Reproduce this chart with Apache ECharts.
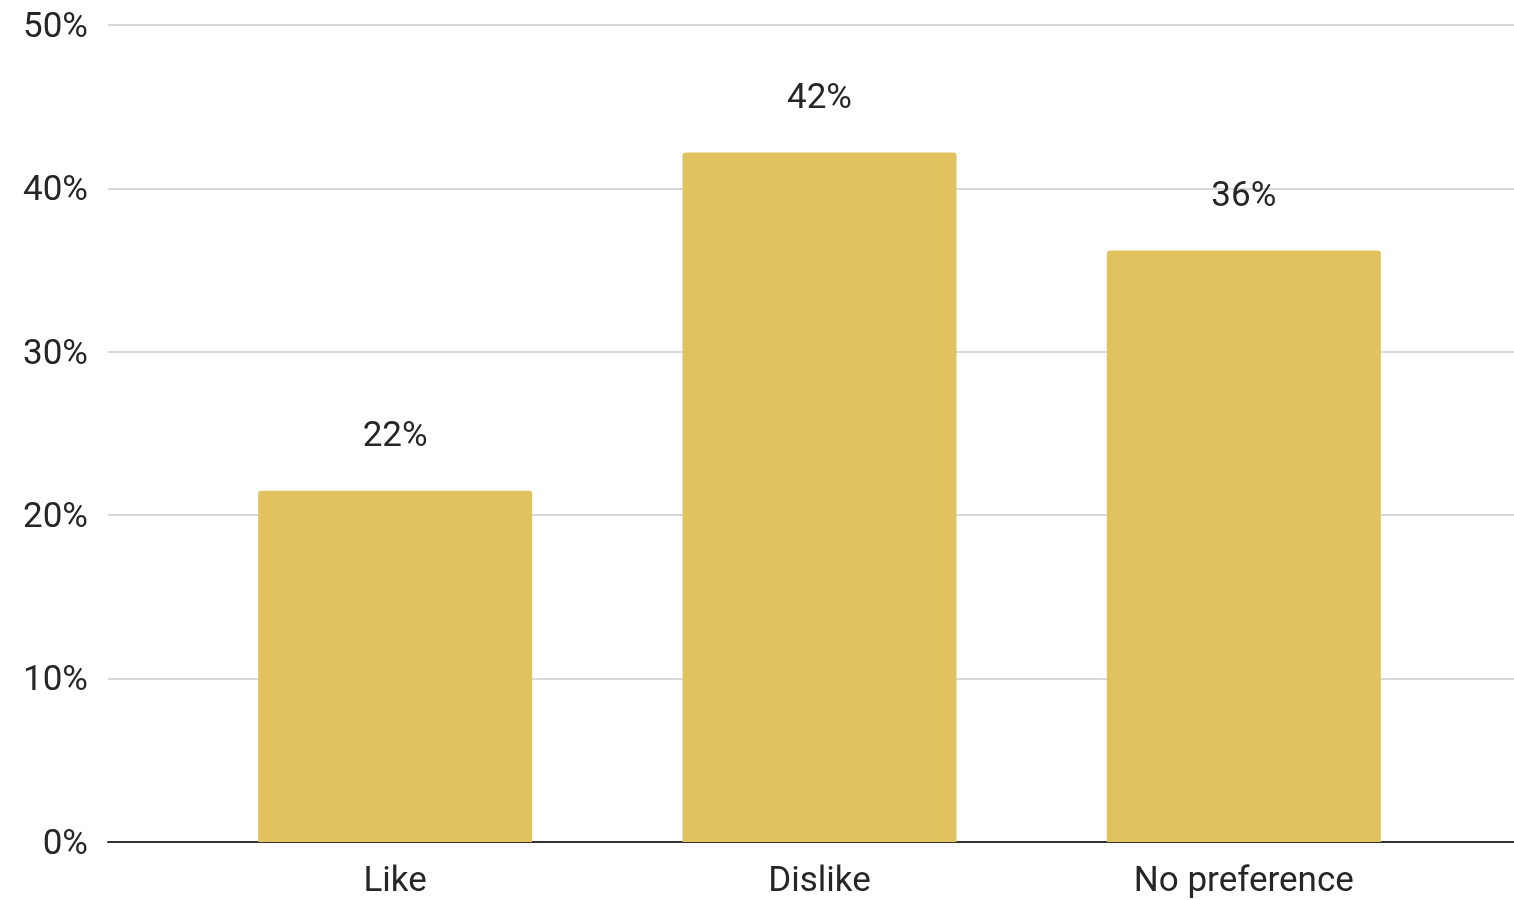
<!DOCTYPE html>
<html>
<head>
<meta charset="utf-8">
<script src="https://cdn.jsdelivr.net/npm/echarts@6/dist/echarts.min.js"></script>
<style>
html,body{margin:0;padding:0;background:#fff;}
#chart{width:1514px;height:900px;}
</style>
</head>
<body>
<div id="chart"></div>
<script>
const categories = ['Like', 'Dislike', 'No preference'];
const values = [21.5, 42.2, 36.2];
const yMin = 0, yMax = 50, yStep = 10;

const FONT = 'Roboto, "Noto Sans", sans-serif';
const chart = echarts.init(document.getElementById('chart'));
chart.setOption({
  animation: false,
  backgroundColor: '#ffffff',
  grid: [
    {left: 108, right: 0, top: 25, bottom: 58},
    {left: 183, right: 58, top: 25, bottom: 58}
  ],
  xAxis: [
    {gridIndex: 0, type: 'value', min: 0, max: 1, axisLabel: {show: false}, axisTick: {show: false}, splitLine: {show: false},
     axisLine: {show: true, onZero: false, lineStyle: {color: '#333333', width: 2}}},
    {gridIndex: 1, type: 'category', data: categories, axisLine: {show: false}, axisTick: {show: false},
     axisLabel: {color: '#262626', fontFamily: FONT, fontSize: 35, margin: 23}}
  ],
  yAxis: [
    {gridIndex: 0, type: 'value', min: yMin, max: yMax, interval: yStep,
     axisLine: {show: false}, axisTick: {show: false},
     splitLine: {show: true, lineStyle: {color: '#cccccc', width: 1.5}},
     axisLabel: {margin: 20, formatter: v => '{t|' + v + '%}',
                 rich: {t: {color: '#262626', fontFamily: FONT, fontSize: 35, padding: [6, 0, 0, 0]}}}},
    {gridIndex: 1, type: 'value', min: yMin, max: yMax, interval: yStep, show: false}
  ],
  series: [
    {type: 'line', xAxisIndex: 0, yAxisIndex: 0, data: [], silent: true},
    {type: 'bar', xAxisIndex: 1, yAxisIndex: 1, data: values, barWidth: 274,
     itemStyle: {color: '#E0C35E', borderRadius: [3, 3, 0, 0]},
     label: {show: true, position: 'top', distance: 36, color: '#262626', fontFamily: FONT, fontSize: 35,
             formatter: p => Math.round(p.value) + '%'}}
  ]
});
</script>
</body>
</html>
